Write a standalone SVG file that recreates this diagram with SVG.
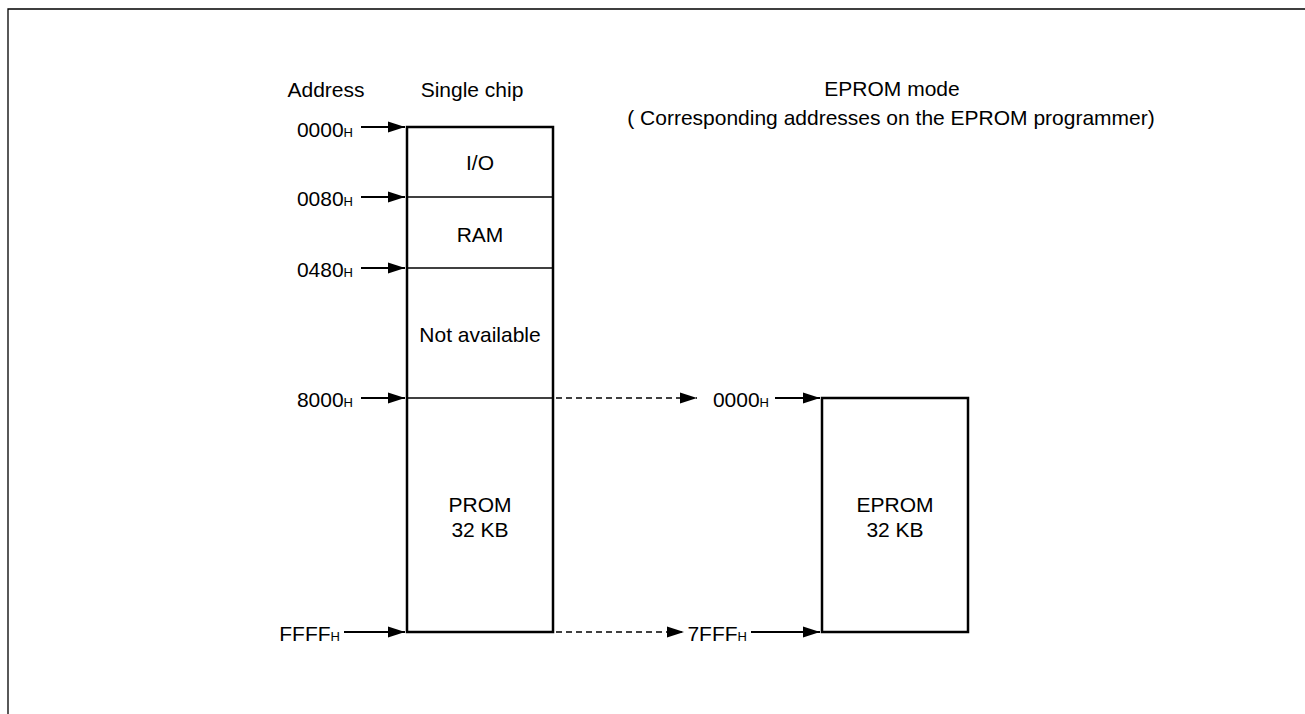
<svg xmlns="http://www.w3.org/2000/svg" width="1305" height="714" viewBox="0 0 1305 714">
<style>
text{font-family:"Liberation Sans",Arial,sans-serif;font-size:21px;fill:#000}
.c{text-anchor:middle}
.e{text-anchor:end}
.s{font-size:13px}
.box{fill:#fff;stroke:#000;stroke-width:2.5}
.div{stroke:#000;stroke-width:1.5}
.arr{stroke:#000;stroke-width:2;fill:none;marker-end:url(#ah)}
.dash{stroke:#000;stroke-width:1.5;fill:none;stroke-dasharray:6 4;marker-end:url(#ah)}
</style>
<defs>
<marker id="ah" markerWidth="18" markerHeight="12" refX="17" refY="6" orient="auto" markerUnits="userSpaceOnUse">
<path d="M0,0.5 L17,6 L0,11.5 Z" fill="#000"/>
</marker>
</defs>
<rect width="1305" height="714" fill="#fff"/>
<path d="M8,714 V9 H1305" fill="none" stroke="#000" stroke-width="1.3"/>
<g id="headers">
<text class="c" x="326" y="97">Address</text>
<text class="c" x="472" y="97">Single chip</text>
<text class="c" x="892" y="96">EPROM mode</text>
<text class="c" x="891" y="125">( Corresponding addresses on the EPROM programmer)</text>
</g>
<g id="single-chip">
<rect class="box" x="407" y="127" width="146" height="505"/>
<line class="div" x1="407" y1="197" x2="553" y2="197"/>
<line class="div" x1="407" y1="268" x2="553" y2="268"/>
<line class="div" x1="407" y1="398" x2="553" y2="398"/>
<text class="c" x="480" y="170">I/O</text>
<text class="c" x="480" y="242">RAM</text>
<text class="c" x="480" y="342">Not available</text>
<text class="c" x="480" y="512">PROM</text>
<text class="c" x="480" y="537">32 KB</text>
</g>
<g id="eprom">
<rect class="box" x="822" y="398" width="146" height="234"/>
<text class="c" x="895" y="512">EPROM</text>
<text class="c" x="895" y="537">32 KB</text>
</g>
<g id="address-labels">
<text class="e" x="353" y="137">0000<tspan class="s">H</tspan></text>
<text class="e" x="353" y="206">0080<tspan class="s">H</tspan></text>
<text class="e" x="353" y="277">0480<tspan class="s">H</tspan></text>
<text class="e" x="353" y="407">8000<tspan class="s">H</tspan></text>
<text class="e" x="340" y="641">FFFF<tspan class="s">H</tspan></text>
<text class="e" x="769" y="407">0000<tspan class="s">H</tspan></text>
<text class="e" x="747" y="641">7FFF<tspan class="s">H</tspan></text>
</g>
<g id="connectors">
<line class="arr" x1="361" y1="127" x2="405" y2="127"/>
<line class="arr" x1="361" y1="197" x2="405" y2="197"/>
<line class="arr" x1="361" y1="268" x2="405" y2="268"/>
<line class="arr" x1="361" y1="398" x2="405" y2="398"/>
<line class="arr" x1="344" y1="632" x2="405" y2="632"/>
<line class="arr" x1="775" y1="398" x2="820" y2="398"/>
<line class="arr" x1="751" y1="632" x2="820" y2="632"/>
<line class="dash" x1="556" y1="398" x2="697" y2="398"/>
<line class="dash" x1="556" y1="632" x2="684" y2="632"/>
</g>
</svg>
